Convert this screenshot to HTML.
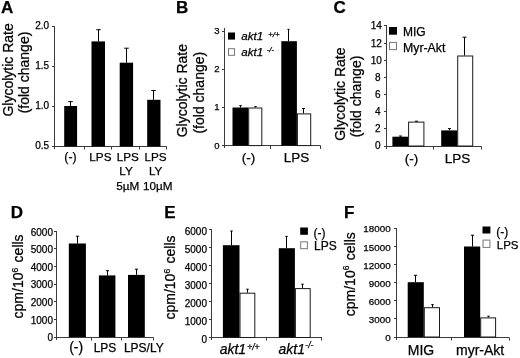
<!DOCTYPE html>
<html><head><meta charset="utf-8"><style>
html,body{margin:0;padding:0;background:#fff;}
body{width:520px;height:358px;overflow:hidden;}
svg{display:block;filter:blur(0.35px);}
text{font-family:"Liberation Sans",sans-serif;fill:#000;stroke:#000;stroke-width:0.25px;}
</style></head><body>
<svg width="520" height="358" viewBox="0 0 520 358">
<rect x="0" y="0" width="520" height="358" fill="#fff"/>
<text x="1" y="13" font-size="17" font-weight="bold">A</text>
<text transform="translate(12.6,69.9) rotate(-90)" font-size="14" text-anchor="middle">Glycolytic Rate</text>
<text transform="translate(29.4,72.5) rotate(-90)" font-size="14" text-anchor="middle">(fold change)</text>
<text x="49.2" y="29.3" font-size="10" text-anchor="end">2.0</text>
<text x="49.2" y="69.3" font-size="10" text-anchor="end">1.5</text>
<text x="49.2" y="109.3" font-size="10" text-anchor="end">1.0</text>
<text x="49.2" y="149.3" font-size="10" text-anchor="end">0.5</text>
<line x1="54.5" y1="26" x2="54.5" y2="149" stroke="#3a3a3a" stroke-width="1"/>
<line x1="52" y1="26.5" x2="54.5" y2="26.5" stroke="#3a3a3a" stroke-width="1"/>
<line x1="52" y1="66.5" x2="54.5" y2="66.5" stroke="#3a3a3a" stroke-width="1"/>
<line x1="52" y1="106.5" x2="54.5" y2="106.5" stroke="#3a3a3a" stroke-width="1"/>
<line x1="52" y1="146.5" x2="54.5" y2="146.5" stroke="#3a3a3a" stroke-width="1"/>
<line x1="54.5" y1="146.5" x2="166.4" y2="146.5" stroke="#3a3a3a" stroke-width="1"/>
<line x1="84.5" y1="146.5" x2="84.5" y2="149.5" stroke="#3a3a3a" stroke-width="1"/>
<line x1="111.5" y1="146.5" x2="111.5" y2="149.5" stroke="#3a3a3a" stroke-width="1"/>
<line x1="139.5" y1="146.5" x2="139.5" y2="149.5" stroke="#3a3a3a" stroke-width="1"/>
<line x1="166.5" y1="146.5" x2="166.5" y2="149.5" stroke="#3a3a3a" stroke-width="1"/>
<rect x="64.2" y="106" width="12.9" height="40.4" fill="#000"/>
<line x1="70.5" y1="101.6" x2="70.5" y2="106" stroke="#000" stroke-width="1"/>
<line x1="68.25" y1="101.6" x2="72.75" y2="101.6" stroke="#000" stroke-width="1"/>
<rect x="91.5" y="41.4" width="13.5" height="105" fill="#000"/>
<line x1="98.5" y1="29.7" x2="98.5" y2="41.4" stroke="#000" stroke-width="1"/>
<line x1="96.25" y1="29.7" x2="100.75" y2="29.7" stroke="#000" stroke-width="1"/>
<rect x="119.7" y="62.7" width="13.4" height="83.7" fill="#000"/>
<line x1="126.5" y1="48.2" x2="126.5" y2="62.7" stroke="#000" stroke-width="1"/>
<line x1="124.25" y1="48.2" x2="128.75" y2="48.2" stroke="#000" stroke-width="1"/>
<rect x="147.2" y="99.8" width="13.3" height="46.6" fill="#000"/>
<line x1="153.5" y1="90.5" x2="153.5" y2="99.8" stroke="#000" stroke-width="1"/>
<line x1="151.25" y1="90.5" x2="155.75" y2="90.5" stroke="#000" stroke-width="1"/>
<text x="70.5" y="161" font-size="12.3" text-anchor="middle">(-)</text>
<text x="100.4" y="160.6" font-size="11.7" text-anchor="middle">LPS</text>
<text x="127.8" y="160.6" font-size="11.7" text-anchor="middle">LPS</text>
<text x="155.5" y="160.6" font-size="11.7" text-anchor="middle">LPS</text>
<text x="126" y="175.4" font-size="11.7" text-anchor="middle">LY</text>
<text x="155.6" y="175.4" font-size="11.7" text-anchor="middle">LY</text>
<text x="127.7" y="189.5" font-size="11.7" text-anchor="middle">5&#181;M</text>
<text x="157.7" y="189.5" font-size="11.7" text-anchor="middle">10&#181;M</text>
<text x="176" y="13" font-size="17" font-weight="bold">B</text>
<text transform="translate(187,90.7) rotate(-90)" font-size="14" text-anchor="middle">Glycolytic Rate</text>
<text transform="translate(204.4,92.7) rotate(-90)" font-size="14" text-anchor="middle">(fold change)</text>
<text x="219.6" y="34.3" font-size="9.5" text-anchor="end">3</text>
<text x="219.6" y="72.3" font-size="9.5" text-anchor="end">2</text>
<text x="219.6" y="110.3" font-size="9.5" text-anchor="end">1</text>
<text x="219.6" y="148.5" font-size="9.5" text-anchor="end">0</text>
<line x1="224.5" y1="28" x2="224.5" y2="148" stroke="#3a3a3a" stroke-width="1"/>
<line x1="222" y1="31.5" x2="224.5" y2="31.5" stroke="#3a3a3a" stroke-width="1"/>
<line x1="222" y1="69.5" x2="224.5" y2="69.5" stroke="#3a3a3a" stroke-width="1"/>
<line x1="222" y1="107.5" x2="224.5" y2="107.5" stroke="#3a3a3a" stroke-width="1"/>
<line x1="222" y1="145.5" x2="224.5" y2="145.5" stroke="#3a3a3a" stroke-width="1"/>
<line x1="224.5" y1="145.5" x2="320.4" y2="145.5" stroke="#3a3a3a" stroke-width="1"/>
<line x1="270.5" y1="145.5" x2="270.5" y2="149" stroke="#3a3a3a" stroke-width="1"/>
<line x1="320.5" y1="145.5" x2="320.5" y2="149" stroke="#3a3a3a" stroke-width="1"/>
<rect x="232.5" y="107.5" width="15.7" height="38.1" fill="#000"/>
<rect x="248.7" y="108" width="13.1" height="37.6" fill="#fff" stroke="#1a1a1a" stroke-width="1"/>
<rect x="281.3" y="41.2" width="15.6" height="104.4" fill="#000"/>
<rect x="297.4" y="113.9" width="13.3" height="31.7" fill="#fff" stroke="#1a1a1a" stroke-width="1"/>
<line x1="240.5" y1="105.6" x2="240.5" y2="107.5" stroke="#000" stroke-width="1"/>
<line x1="239.25" y1="105.6" x2="241.75" y2="105.6" stroke="#000" stroke-width="1"/>
<line x1="255.5" y1="106.6" x2="255.5" y2="107.5" stroke="#000" stroke-width="1"/>
<line x1="254.25" y1="106.6" x2="256.75" y2="106.6" stroke="#000" stroke-width="1"/>
<line x1="288.5" y1="29.3" x2="288.5" y2="41.2" stroke="#000" stroke-width="1"/>
<line x1="287.4" y1="29.3" x2="289.6" y2="29.3" stroke="#000" stroke-width="1"/>
<line x1="303.5" y1="108.5" x2="303.5" y2="113.4" stroke="#000" stroke-width="1"/>
<line x1="302" y1="108.5" x2="305" y2="108.5" stroke="#000" stroke-width="1"/>
<rect x="228" y="32.5" width="7" height="7.1" fill="#000"/>
<rect x="228.5" y="48.7" width="6" height="6.6" fill="#fff" stroke="#777" stroke-width="1"/>
<text x="241.3" y="40.4" font-size="11.6" font-style="italic">akt1</text>
<text x="268.2" y="37" font-size="8" font-style="italic">+/+</text>
<text x="241.3" y="55.9" font-size="11.6" font-style="italic">akt1</text>
<text x="266.7" y="52" font-size="8" font-style="italic">-/-</text>
<text x="248.5" y="161.6" font-size="13.5" text-anchor="middle">(-)</text>
<text x="296.5" y="161.6" font-size="13.5" text-anchor="middle">LPS</text>
<text x="333.5" y="13" font-size="17" font-weight="bold">C</text>
<text transform="translate(344.8,94.2) rotate(-90)" font-size="14" text-anchor="middle">Glycolytic Rate</text>
<text transform="translate(361.3,96.5) rotate(-90)" font-size="14" text-anchor="middle">(fold change)</text>
<text x="380.6" y="149.4" font-size="10" text-anchor="end">0</text>
<text x="380.6" y="132.25" font-size="10" text-anchor="end">2</text>
<text x="380.6" y="115.1" font-size="10" text-anchor="end">4</text>
<text x="380.6" y="97.95" font-size="10" text-anchor="end">6</text>
<text x="380.6" y="80.8" font-size="10" text-anchor="end">8</text>
<text x="381.9" y="63.65" font-size="10" text-anchor="end">10</text>
<text x="381.9" y="46.5" font-size="10" text-anchor="end">12</text>
<text x="381.9" y="29.35" font-size="10" text-anchor="end">14</text>
<line x1="386.5" y1="25" x2="386.5" y2="149" stroke="#3a3a3a" stroke-width="1"/>
<line x1="384" y1="146.5" x2="386.5" y2="146.5" stroke="#3a3a3a" stroke-width="1"/>
<line x1="384" y1="128.5" x2="386.5" y2="128.5" stroke="#3a3a3a" stroke-width="1"/>
<line x1="384" y1="111.5" x2="386.5" y2="111.5" stroke="#3a3a3a" stroke-width="1"/>
<line x1="384" y1="94.5" x2="386.5" y2="94.5" stroke="#3a3a3a" stroke-width="1"/>
<line x1="384" y1="77.5" x2="386.5" y2="77.5" stroke="#3a3a3a" stroke-width="1"/>
<line x1="384" y1="60.5" x2="386.5" y2="60.5" stroke="#3a3a3a" stroke-width="1"/>
<line x1="384" y1="43.5" x2="386.5" y2="43.5" stroke="#3a3a3a" stroke-width="1"/>
<line x1="384" y1="25.5" x2="386.5" y2="25.5" stroke="#3a3a3a" stroke-width="1"/>
<line x1="386.5" y1="146.5" x2="481.4" y2="146.5" stroke="#3a3a3a" stroke-width="1"/>
<line x1="433.5" y1="146.5" x2="433.5" y2="149.5" stroke="#3a3a3a" stroke-width="1"/>
<line x1="481.5" y1="146.5" x2="481.5" y2="149.5" stroke="#3a3a3a" stroke-width="1"/>
<rect x="392.4" y="136.7" width="15.7" height="9.3" fill="#000"/>
<rect x="408.6" y="122.1" width="15.3" height="23.9" fill="#fff" stroke="#1a1a1a" stroke-width="1"/>
<rect x="441.2" y="130.4" width="16.1" height="15.6" fill="#000"/>
<rect x="457.7" y="56" width="15" height="90" fill="#fff" stroke="#1a1a1a" stroke-width="1"/>
<line x1="400.5" y1="136" x2="400.5" y2="136.7" stroke="#000" stroke-width="1"/>
<line x1="399" y1="136" x2="402" y2="136" stroke="#000" stroke-width="1"/>
<line x1="416.5" y1="121.2" x2="416.5" y2="121.6" stroke="#000" stroke-width="1"/>
<line x1="415" y1="121.2" x2="418" y2="121.2" stroke="#000" stroke-width="1"/>
<line x1="449.5" y1="128.6" x2="449.5" y2="130.4" stroke="#000" stroke-width="1"/>
<line x1="448" y1="128.6" x2="451" y2="128.6" stroke="#000" stroke-width="1"/>
<line x1="464.5" y1="37.2" x2="464.5" y2="55.5" stroke="#000" stroke-width="1"/>
<line x1="462.5" y1="37.2" x2="466.5" y2="37.2" stroke="#000" stroke-width="1"/>
<rect x="389" y="27" width="8" height="7.7" fill="#000"/>
<rect x="389.5" y="42.4" width="7" height="7.2" fill="#fff" stroke="#777" stroke-width="1"/>
<text x="403" y="35.8" font-size="12">MIG</text>
<text x="403" y="52.2" font-size="12.3">Myr-Akt</text>
<text x="411.5" y="162.9" font-size="13.5" text-anchor="middle">(-)</text>
<text x="457.6" y="162.9" font-size="13.5" text-anchor="middle">LPS</text>
<text x="10.7" y="218" font-size="17" font-weight="bold">D</text>
<text transform="translate(23.2,276.4) rotate(-90)" font-size="14" text-anchor="middle">cpm/10<tspan font-size="8.5" dy="-5.2">6</tspan><tspan dy="5.2" dx="1.5"> cells</tspan></text>
<text x="53" y="341.4" font-size="10" text-anchor="end">0</text>
<text x="53" y="323.75" font-size="10" text-anchor="end">1000</text>
<text x="53" y="306.1" font-size="10" text-anchor="end">2000</text>
<text x="53" y="288.45" font-size="10" text-anchor="end">3000</text>
<text x="53" y="270.8" font-size="10" text-anchor="end">4000</text>
<text x="53" y="253.15" font-size="10" text-anchor="end">5000</text>
<text x="53" y="235.5" font-size="10" text-anchor="end">6000</text>
<line x1="56.5" y1="231" x2="56.5" y2="340" stroke="#3a3a3a" stroke-width="1"/>
<line x1="54" y1="337.5" x2="56.5" y2="337.5" stroke="#3a3a3a" stroke-width="1"/>
<line x1="54" y1="319.5" x2="56.5" y2="319.5" stroke="#3a3a3a" stroke-width="1"/>
<line x1="54" y1="301.5" x2="56.5" y2="301.5" stroke="#3a3a3a" stroke-width="1"/>
<line x1="54" y1="284.5" x2="56.5" y2="284.5" stroke="#3a3a3a" stroke-width="1"/>
<line x1="54" y1="266.5" x2="56.5" y2="266.5" stroke="#3a3a3a" stroke-width="1"/>
<line x1="54" y1="248.5" x2="56.5" y2="248.5" stroke="#3a3a3a" stroke-width="1"/>
<line x1="54" y1="231.5" x2="56.5" y2="231.5" stroke="#3a3a3a" stroke-width="1"/>
<line x1="56.5" y1="337.5" x2="153.5" y2="337.5" stroke="#3a3a3a" stroke-width="1"/>
<line x1="91.5" y1="337.5" x2="91.5" y2="340.5" stroke="#3a3a3a" stroke-width="1"/>
<line x1="121.5" y1="337.5" x2="121.5" y2="340.5" stroke="#3a3a3a" stroke-width="1"/>
<line x1="153.5" y1="337.5" x2="153.5" y2="340.5" stroke="#3a3a3a" stroke-width="1"/>
<rect x="68.8" y="243.5" width="17.1" height="93.5" fill="#000"/>
<line x1="77.5" y1="236.2" x2="77.5" y2="243.5" stroke="#000" stroke-width="1"/>
<line x1="75.9" y1="236.2" x2="79.1" y2="236.2" stroke="#000" stroke-width="1"/>
<rect x="98.9" y="275.4" width="16.5" height="61.6" fill="#000"/>
<line x1="107.5" y1="270.7" x2="107.5" y2="275.4" stroke="#000" stroke-width="1"/>
<line x1="105.9" y1="270.7" x2="109.1" y2="270.7" stroke="#000" stroke-width="1"/>
<rect x="128" y="274.9" width="16.8" height="62.1" fill="#000"/>
<line x1="136.5" y1="269.2" x2="136.5" y2="274.9" stroke="#000" stroke-width="1"/>
<line x1="134.9" y1="269.2" x2="138.1" y2="269.2" stroke="#000" stroke-width="1"/>
<text x="76.15" y="351.6" font-size="14" text-anchor="middle">(-)</text>
<text x="105" y="351.5" font-size="12" text-anchor="middle">LPS</text>
<text x="143.8" y="351.5" font-size="12" text-anchor="middle">LPS/LY</text>
<text x="164.3" y="218.3" font-size="17" font-weight="bold">E</text>
<text transform="translate(174.7,277.5) rotate(-90)" font-size="14" text-anchor="middle">cpm/10<tspan font-size="8.5" dy="-5.2">6</tspan><tspan dy="5.2" dx="1.5"> cells</tspan></text>
<text x="207" y="342.8" font-size="10" text-anchor="end">0</text>
<text x="207" y="324.8" font-size="10" text-anchor="end">1000</text>
<text x="207" y="306.8" font-size="10" text-anchor="end">2000</text>
<text x="207" y="288.8" font-size="10" text-anchor="end">3000</text>
<text x="207" y="270.8" font-size="10" text-anchor="end">4000</text>
<text x="207" y="252.8" font-size="10" text-anchor="end">5000</text>
<text x="207" y="234.8" font-size="10" text-anchor="end">6000</text>
<line x1="211.5" y1="229" x2="211.5" y2="340" stroke="#3a3a3a" stroke-width="1"/>
<line x1="209" y1="337.5" x2="211.5" y2="337.5" stroke="#3a3a3a" stroke-width="1"/>
<line x1="209" y1="319.5" x2="211.5" y2="319.5" stroke="#3a3a3a" stroke-width="1"/>
<line x1="209" y1="301.5" x2="211.5" y2="301.5" stroke="#3a3a3a" stroke-width="1"/>
<line x1="209" y1="283.5" x2="211.5" y2="283.5" stroke="#3a3a3a" stroke-width="1"/>
<line x1="209" y1="265.5" x2="211.5" y2="265.5" stroke="#3a3a3a" stroke-width="1"/>
<line x1="209" y1="247.5" x2="211.5" y2="247.5" stroke="#3a3a3a" stroke-width="1"/>
<line x1="209" y1="229.5" x2="211.5" y2="229.5" stroke="#3a3a3a" stroke-width="1"/>
<line x1="211.5" y1="337.5" x2="322" y2="337.5" stroke="#3a3a3a" stroke-width="1"/>
<line x1="266.5" y1="337.5" x2="266.5" y2="340.5" stroke="#3a3a3a" stroke-width="1"/>
<line x1="321.5" y1="337.5" x2="321.5" y2="340.5" stroke="#3a3a3a" stroke-width="1"/>
<rect x="222.9" y="245.2" width="16.6" height="92.3" fill="#000"/>
<rect x="240" y="293.2" width="14.8" height="44.3" fill="#fff" stroke="#1a1a1a" stroke-width="1"/>
<rect x="278.8" y="248.2" width="16.1" height="89.3" fill="#000"/>
<rect x="295.4" y="288.6" width="14.8" height="48.9" fill="#fff" stroke="#1a1a1a" stroke-width="1"/>
<line x1="231.5" y1="231" x2="231.5" y2="245.2" stroke="#000" stroke-width="1"/>
<line x1="230.25" y1="231" x2="232.75" y2="231" stroke="#000" stroke-width="1"/>
<line x1="247.5" y1="289.2" x2="247.5" y2="292.7" stroke="#000" stroke-width="1"/>
<line x1="246.25" y1="289.2" x2="248.75" y2="289.2" stroke="#000" stroke-width="1"/>
<line x1="286.5" y1="236.4" x2="286.5" y2="248.2" stroke="#000" stroke-width="1"/>
<line x1="285.25" y1="236.4" x2="287.75" y2="236.4" stroke="#000" stroke-width="1"/>
<line x1="302.5" y1="284.2" x2="302.5" y2="288.1" stroke="#000" stroke-width="1"/>
<line x1="301.25" y1="284.2" x2="303.75" y2="284.2" stroke="#000" stroke-width="1"/>
<rect x="300.2" y="227.5" width="7.7" height="7.3" fill="#000"/>
<rect x="300.7" y="241.8" width="6.7" height="6.9" fill="#fff" stroke="#777" stroke-width="1"/>
<text x="313.5" y="237.2" font-size="12">(-)</text>
<text x="314" y="249.8" font-size="12">LPS</text>
<text x="219.7" y="354" font-size="14" font-style="italic" stroke-width="0.55">akt1</text>
<text x="247.2" y="349.6" font-size="8.5" font-style="italic" stroke-width="0.35">+/+</text>
<text x="278.5" y="354" font-size="14" font-style="italic" stroke-width="0.55">akt1</text>
<text x="305.3" y="348.4" font-size="8.5" font-style="italic" stroke-width="0.35">-/-</text>
<text x="344" y="217.5" font-size="17" font-weight="bold">F</text>
<text transform="translate(354.6,274.2) rotate(-90)" font-size="14" text-anchor="middle">cpm/10<tspan font-size="8.5" dy="-5.2">6</tspan><tspan dy="5.2" dx="1.5"> cells</tspan></text>
<text x="390.6" y="341.2" font-size="9.8" text-anchor="end">0</text>
<text x="390.6" y="323.07" font-size="9.8" text-anchor="end">3000</text>
<text x="390.6" y="304.94" font-size="9.8" text-anchor="end">6000</text>
<text x="390.6" y="286.81" font-size="9.8" text-anchor="end">9000</text>
<text x="390.6" y="268.68" font-size="9.8" text-anchor="end">12000</text>
<text x="390.6" y="250.55" font-size="9.8" text-anchor="end">15000</text>
<text x="390.6" y="232.42" font-size="9.8" text-anchor="end">18000</text>
<line x1="396.5" y1="228" x2="396.5" y2="340" stroke="#3a3a3a" stroke-width="1"/>
<line x1="394" y1="337.5" x2="396.5" y2="337.5" stroke="#3a3a3a" stroke-width="1"/>
<line x1="394" y1="318.5" x2="396.5" y2="318.5" stroke="#3a3a3a" stroke-width="1"/>
<line x1="394" y1="300.5" x2="396.5" y2="300.5" stroke="#3a3a3a" stroke-width="1"/>
<line x1="394" y1="282.5" x2="396.5" y2="282.5" stroke="#3a3a3a" stroke-width="1"/>
<line x1="394" y1="264.5" x2="396.5" y2="264.5" stroke="#3a3a3a" stroke-width="1"/>
<line x1="394" y1="246.5" x2="396.5" y2="246.5" stroke="#3a3a3a" stroke-width="1"/>
<line x1="394" y1="228.5" x2="396.5" y2="228.5" stroke="#3a3a3a" stroke-width="1"/>
<line x1="396.5" y1="337.5" x2="509.2" y2="337.5" stroke="#3a3a3a" stroke-width="1"/>
<line x1="451.5" y1="337.5" x2="451.5" y2="340.5" stroke="#3a3a3a" stroke-width="1"/>
<line x1="509.5" y1="337.5" x2="509.5" y2="340.5" stroke="#3a3a3a" stroke-width="1"/>
<rect x="407.7" y="282.2" width="16.1" height="54.8" fill="#000"/>
<rect x="424.3" y="307.7" width="15.2" height="29.3" fill="#fff" stroke="#1a1a1a" stroke-width="1"/>
<rect x="464" y="246.5" width="16.2" height="90.5" fill="#000"/>
<rect x="480.7" y="317.9" width="14.9" height="19.1" fill="#fff" stroke="#1a1a1a" stroke-width="1"/>
<line x1="415.5" y1="275.3" x2="415.5" y2="282.2" stroke="#000" stroke-width="1"/>
<line x1="413.9" y1="275.3" x2="417.1" y2="275.3" stroke="#000" stroke-width="1"/>
<line x1="432.5" y1="304.6" x2="432.5" y2="307.2" stroke="#000" stroke-width="1"/>
<line x1="431.25" y1="304.6" x2="433.75" y2="304.6" stroke="#000" stroke-width="1"/>
<line x1="472.5" y1="235.2" x2="472.5" y2="246.5" stroke="#000" stroke-width="1"/>
<line x1="470.9" y1="235.2" x2="474.1" y2="235.2" stroke="#000" stroke-width="1"/>
<line x1="488.5" y1="316.2" x2="488.5" y2="317.4" stroke="#000" stroke-width="1"/>
<line x1="487.25" y1="316.2" x2="489.75" y2="316.2" stroke="#000" stroke-width="1"/>
<rect x="482.5" y="226.5" width="7.9" height="7" fill="#000"/>
<rect x="483" y="240.1" width="6.9" height="7.3" fill="#fff" stroke="#777" stroke-width="1"/>
<text x="496.3" y="236" font-size="12">(-)</text>
<text x="496.8" y="248.8" font-size="11.5">LPS</text>
<text x="421" y="355" font-size="14" text-anchor="middle">MIG</text>
<text x="480.1" y="355" font-size="14" text-anchor="middle">myr-Akt</text>
</svg>
</body></html>
